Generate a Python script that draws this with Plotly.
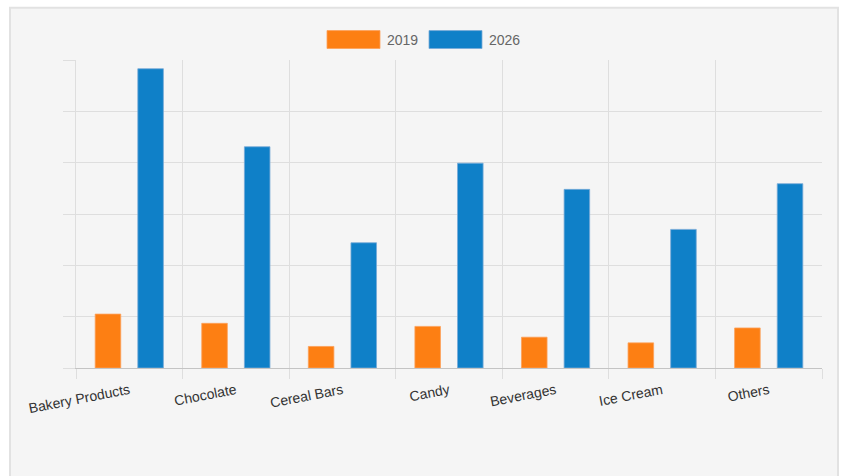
import plotly.graph_objects as go

categories = ["Bakery Products", "Chocolate", "Cereal Bars", "Candy", "Beverages", "Ice Cream", "Others"]
values_2019 = [10.5, 8.7, 4.2, 8.1, 6.0, 4.9, 7.8]
values_2026 = [58.3, 43.1, 24.4, 39.9, 34.8, 27.0, 35.9]
series_names = ["2019", "2026"]

W, H = 843, 476
L, R, T, B = 76, 822, 59.5, 368.3
PW, PH = R - L, B - T

def px(x):
    return (x - L) / PW

def py(y):
    return (B - y) / PH

ORANGE = "#fd7f13"
BLUE = "#0f80c8"
GRID = "#dedede"
FONT = "Liberation Sans, Arial, sans-serif"

fig = go.Figure()
fig.add_trace(go.Bar(x=categories, y=values_2019, name=series_names[0],
                     marker=dict(color=ORANGE, line=dict(color="rgba(253,160,90,0.8)", width=1)),
                     showlegend=False))
fig.add_trace(go.Bar(x=categories, y=values_2026, name=series_names[1],
                     marker=dict(color=BLUE, line=dict(color="rgba(120,170,215,0.8)", width=1)),
                     showlegend=False))

shapes = [
    # card background and border
    dict(type="rect", xref="paper", yref="paper", layer="below",
         x0=px(10), x1=px(838), y0=py(490), y1=py(7),
         fillcolor="#f5f5f5", line=dict(color="#e2e2e2", width=2)),
    # legend boxes
    dict(type="rect", xref="paper", yref="paper",
         x0=px(327), x1=px(380), y0=py(48), y1=py(30),
         fillcolor=ORANGE, line=dict(color="rgba(253,160,90,0.8)", width=1)),
    dict(type="rect", xref="paper", yref="paper",
         x0=px(429), x1=px(482), y0=py(48), y1=py(30),
         fillcolor=BLUE, line=dict(color="rgba(120,170,215,0.8)", width=1)),
]
annotations = [
    dict(text=series_names[0], xref="paper", yref="paper", x=px(385), y=py(39),
         xanchor="left", yanchor="middle", showarrow=False,
         font=dict(family=FONT, size=14, color="#666666")),
    dict(text=series_names[1], xref="paper", yref="paper", x=px(487), y=py(39),
         xanchor="left", yanchor="middle", showarrow=False,
         font=dict(family=FONT, size=14, color="#666666")),
]

fig.update_layout(
    width=W, height=H,
    margin=dict(l=L, r=W - R, t=T, b=H - B, pad=0),
    paper_bgcolor="white",
    plot_bgcolor="rgba(0,0,0,0)",
    barmode="group", bargap=0.2, bargroupgap=0.4,
    shapes=shapes, annotations=annotations,
    showlegend=False,
    font=dict(family=FONT, size=14, color="#444444"),
)
fig.update_xaxes(
    type="category", tickson="boundaries", ticks="outside", ticklen=10,
    tickcolor=GRID, showgrid=True, gridcolor=GRID, gridwidth=1,
    showline=True, linecolor="#c4c4c4", linewidth=1,
    tickangle=-11, tickfont=dict(family=FONT, size=14, color="#333333"),
    ticklabelstandoff=8,
    fixedrange=True,
)
fig.update_yaxes(
    range=[0, 60], dtick=10, showticklabels=False, ticks="outside", ticklen=12,
    tickcolor=GRID, showgrid=True, gridcolor=GRID, gridwidth=1,
    showline=True, linecolor=GRID, linewidth=1, zeroline=False, fixedrange=True,
)

fig.write_html("out.html", config={"displayModeBar": False},
               post_script="document.body.style.margin='0';document.body.style.overflow='hidden';")
